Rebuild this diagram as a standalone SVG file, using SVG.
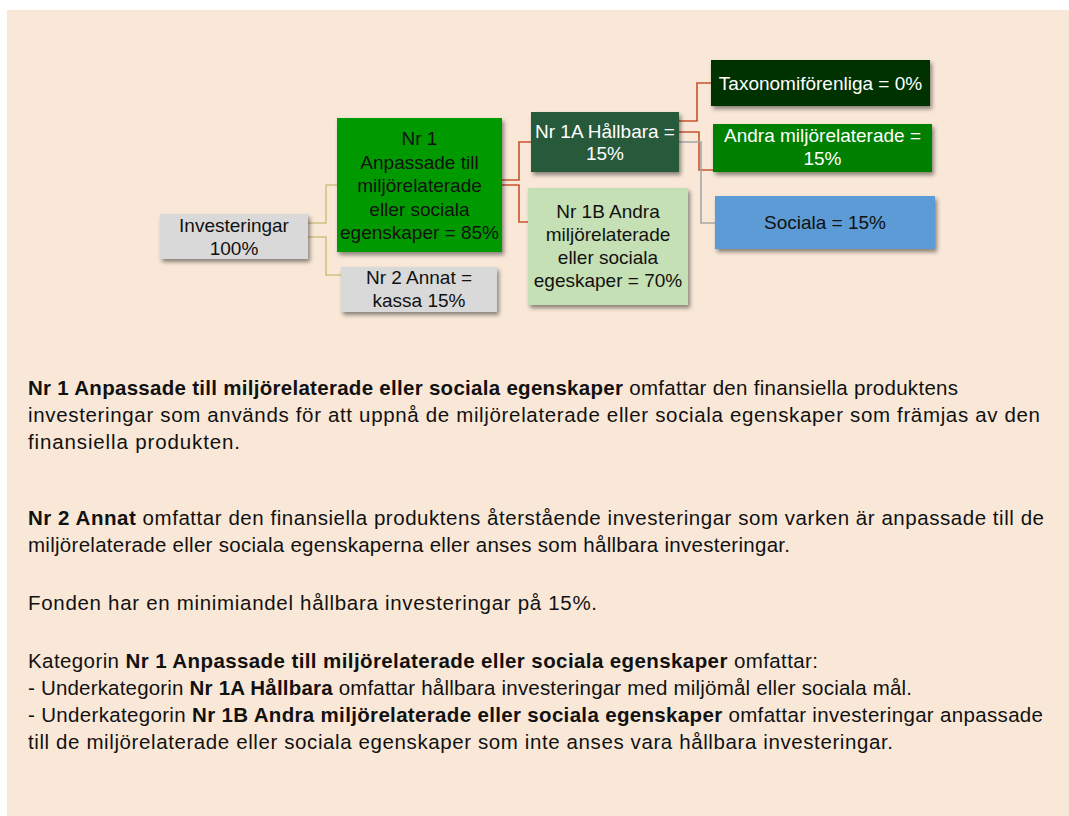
<svg xmlns="http://www.w3.org/2000/svg" width="1069" height="816" viewBox="0 0 1069 816">
<style>
.t{font-family:"Liberation Sans",Arial,sans-serif;font-size:19px;text-anchor:middle}
.w{fill:#ffffff}
.k{fill:#111111}
.p{font-family:"Liberation Sans",Arial,sans-serif;font-size:20.5px;fill:#111111}
.b{font-weight:bold}
.c{fill:none;stroke-width:1.6}
.tan{stroke:#CFC283}
.red{stroke:#C9532F}
.gry{stroke:#A6A6A6}
</style>
<defs>
<filter id="sh" x="-10%" y="-10%" width="130%" height="140%">
<feDropShadow dx="2" dy="3" stdDeviation="2" flood-color="#000" flood-opacity="0.45"/>
</filter>
</defs>
<rect x="0" y="0" width="1069" height="816" fill="#ffffff"/>
<rect x="7" y="10" width="1062" height="806" fill="#F9E8D8"/>

<g id="connectors">
<polyline class="c tan" points="308,223 326,223 326,185 337,185"/>
<polyline class="c tan" points="308,237 326,237 326,275 341,275"/>
<polyline class="c red" points="502,180 519,180 519,142 531,142"/>
<polyline class="c red" points="502,185 519,185 519,222 528,222"/>
<polyline class="c red" points="679,121 697,121 697,83 711,83"/>
<polyline class="c red" points="679,132 699,132 699,170 713,170"/>
<polyline class="c gry" points="679,142 701,142 701,223 715,223"/>
</g>

<g id="investeringar">
<rect x="160" y="214" width="148" height="45" fill="#D9D9D9" filter="url(#sh)"/>
<text class="t k" x="234" y="232">Investeringar</text>
<text class="t k" x="234" y="255">100%</text>
</g>

<g id="nr1">
<rect x="337" y="118" width="165" height="134" fill="#009A00" filter="url(#sh)"/>
<text class="t k" x="419.5" y="145">Nr 1</text>
<text class="t k" x="419.5" y="168.5">Anpassade till</text>
<text class="t k" x="419.5" y="192">miljörelaterade</text>
<text class="t k" x="419.5" y="215.5">eller sociala</text>
<text class="t k" x="419.5" y="239">egenskaper = 85%</text>
</g>

<g id="nr2">
<rect x="341" y="267" width="156" height="45" fill="#D9D9D9" filter="url(#sh)"/>
<text class="t k" x="419" y="284">Nr 2 Annat =</text>
<text class="t k" x="419" y="307">kassa 15%</text>
</g>

<g id="nr1a">
<rect x="531" y="112" width="148" height="60" fill="#265A3B" filter="url(#sh)"/>
<text class="t w" x="605" y="137.5">Nr 1A Hållbara =</text>
<text class="t w" x="605" y="159.5">15%</text>
</g>

<g id="nr1b">
<rect x="528" y="188" width="160" height="117" fill="#C5E0B4" filter="url(#sh)"/>
<text class="t k" x="608" y="217.5">Nr 1B Andra</text>
<text class="t k" x="608" y="240.5">miljörelaterade</text>
<text class="t k" x="608" y="263.5">eller sociala</text>
<text class="t k" x="608" y="286.5">egeskaper = 70%</text>
</g>

<g id="taxonomi">
<rect x="711" y="60" width="219" height="46" fill="#003300" filter="url(#sh)"/>
<text class="t w" x="820.5" y="89.5">Taxonomiförenliga = 0%</text>
</g>

<g id="andra">
<rect x="713" y="124" width="219" height="48" fill="#008000" filter="url(#sh)"/>
<text class="t w" x="822.5" y="142">Andra miljörelaterade =</text>
<text class="t w" x="822.5" y="165">15%</text>
</g>

<g id="sociala">
<rect x="715" y="196" width="220" height="53" fill="#5B9BD5" filter="url(#sh)"/>
<text class="t k" x="825" y="228.5">Sociala = 15%</text>
</g>

<g id="text">
<text class="p" x="28" y="395" textLength="930"><tspan class="b">Nr 1 Anpassade till miljörelaterade eller sociala egenskaper</tspan> omfattar den finansiella produktens</text>
<text class="p" x="28" y="422" textLength="1012">investeringar som används för att uppnå de miljörelaterade eller sociala egenskaper som främjas av den</text>
<text class="p" x="28" y="449" textLength="212">finansiella produkten.</text>
<text class="p" x="28" y="525" textLength="1016"><tspan class="b">Nr 2 Annat</tspan> omfattar den finansiella produktens återstående investeringar som varken är anpassade till de</text>
<text class="p" x="28" y="552" textLength="762">miljörelaterade eller sociala egenskaperna eller anses som hållbara investeringar.</text>
<text class="p" x="28" y="610" textLength="569">Fonden har en minimiandel hållbara investeringar på 15%.</text>
<text class="p" x="28" y="668" textLength="790">Kategorin <tspan class="b">Nr 1 Anpassade till miljörelaterade eller sociala egenskaper</tspan> omfattar:</text>
<text class="p" x="28" y="695" textLength="884">- Underkategorin <tspan class="b">Nr 1A Hållbara</tspan> omfattar hållbara investeringar med miljömål eller sociala mål.</text>
<text class="p" x="28" y="722" textLength="1015">- Underkategorin <tspan class="b">Nr 1B Andra miljörelaterade eller sociala egenskaper</tspan> omfattar investeringar anpassade</text>
<text class="p" x="28" y="749" textLength="865">till de miljörelaterade eller sociala egenskaper som inte anses vara hållbara investeringar.</text>
</g>
</svg>
